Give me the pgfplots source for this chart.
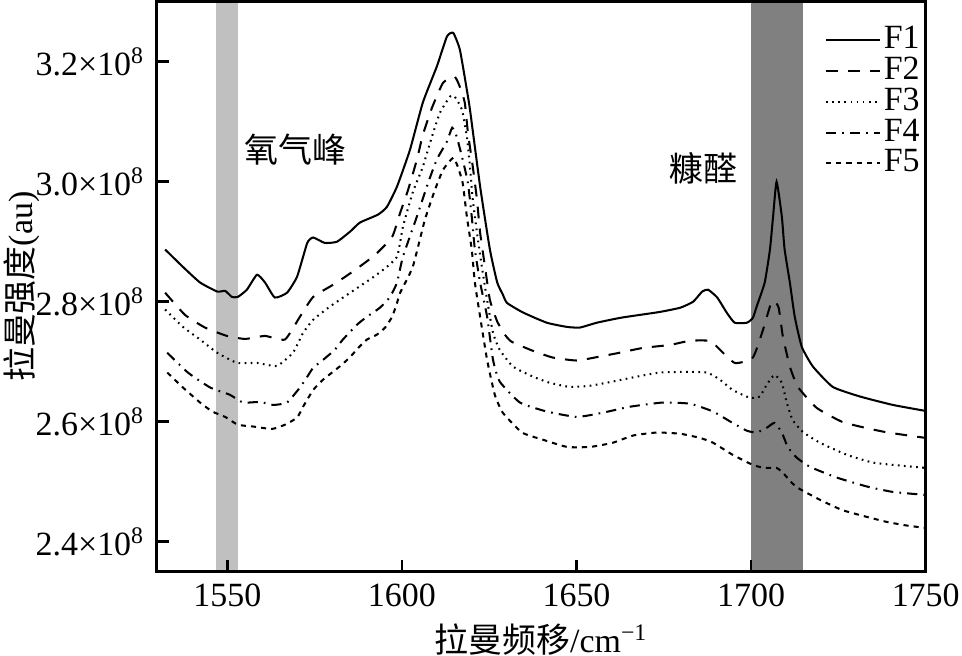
\documentclass[border=0pt]{standalone}
\usepackage{fontspec}
\setmainfont{Liberation Serif}
\newfontfamily\cjk{Noto Sans CJK SC}
\usepackage{pgfplots}
\pgfplotsset{compat=1.18}
\definecolor{bandlight}{RGB}{192,192,192}
\definecolor{banddark}{RGB}{128,128,128}

\begin{document}
\begin{tikzpicture}
\begin{axis}[
  scale only axis, width=226.6pt, height=168pt,
  xmin=1529.8, xmax=1750, ymin=2.35, ymax=3.3,
  xtick={1550,1600,1650,1700,1750},
  ytick={2.4,2.6,2.8,3.0,3.2},
  yticklabels={{2.4×10\textsuperscript{8}},{2.6×10\textsuperscript{8}},{2.8×10\textsuperscript{8}},{3.0×10\textsuperscript{8}},{3.2×10\textsuperscript{8}}},
  tick pos=left, tick align=inside, major tick length=3.6pt,
  axis line style={line width=0.8pt},
  every tick/.style={line width=0.8pt, black},
  axis on top,
  /pgf/number format/assume math mode=true,
  /pgf/number format/1000 sep={},
  xlabel={{\cjk 拉曼频移}/cm\textsuperscript{−1}},
  ylabel={{\cjk 拉曼强度}(au)},
  every axis x label/.style={at={(axis description cs:0.5,-0.119)}, anchor=center},
  every axis y label/.style={at={(axis description cs:-0.176,0.5)}, rotate=90, anchor=center},
  every axis plot/.append style={line width=0.6pt, black, smooth, tension=0.3},
  legend style={at={(0.855,0.975)}, anchor=north west, draw=none, fill=none, row sep=-0.6pt, nodes={inner sep=0.8pt}},
  legend cell align=left,
  legend image code/.code={\draw[#1, sharp plot] (0cm,0cm) -- (0.56cm,0cm);},
]
\addplot[fill=bandlight, draw=none, forget plot, sharp plot] coordinates {(1546.8,2.35) (1546.8,3.3) (1553,3.3) (1553,2.35)} -- cycle;
\addplot[fill=banddark, draw=none, forget plot, sharp plot] coordinates {(1699.9,2.35) (1699.9,3.3) (1715,3.3) (1715,2.35)} -- cycle;

% F1
\addplot[solid] coordinates {
(1532.2,2.887)(1537.3,2.858)(1542.2,2.832)(1547.1,2.817)(1549.4,2.818)(1551.3,2.808)(1553.0,2.808)
(1555.6,2.820)(1558.5,2.845)(1560.8,2.832)(1563.6,2.807)(1567.1,2.815)(1570.0,2.842)(1572.9,2.898)
(1574.6,2.907)(1577.9,2.898)(1581.4,2.900)(1585.2,2.917)(1588.0,2.932)(1593.1,2.945)(1595.7,2.958)
(1598.6,2.992)(1602.3,3.053)(1606.0,3.132)(1610.0,3.192)(1612.9,3.242)(1614.7,3.248)(1616.6,3.220)
(1618.6,3.153)(1619.5,3.120)(1622.4,2.992)(1625.2,2.887)(1627.3,2.832)(1628.9,2.812)(1630.1,2.798)
(1634.7,2.782)(1641.5,2.765)(1647.3,2.758)(1651.0,2.757)(1655.8,2.765)(1662.4,2.773)(1668.1,2.778)
(1673.9,2.783)(1679.7,2.790)(1683.4,2.800)(1686.0,2.817)(1687.7,2.820)(1690.3,2.807)(1693.0,2.782)
(1695.3,2.765)(1698.8,2.765)(1700.5,2.773)(1701.6,2.792)(1703.9,2.832)(1705.4,2.887)(1706.3,2.942)
(1707.3,3.000)(1708.8,2.942)(1709.6,2.887)(1711.1,2.832)(1712.5,2.775)(1714.5,2.725)(1717.7,2.692)
(1723.4,2.658)(1731.2,2.642)(1740.6,2.628)(1750,2.618)};
\addlegendentry{F1}

% F2
\addplot[dash pattern=on 3.5pt off 3pt] coordinates {
(1532.2,2.815)(1537.9,2.778)(1543.6,2.757)(1549.9,2.743)(1555.1,2.738)(1560.8,2.743)(1566.5,2.737)
(1570.8,2.775)(1574.6,2.808)(1580.8,2.830)(1586.6,2.853)(1592.3,2.878)(1597.2,2.908)(1599.5,2.948)
(1601.8,2.987)(1604.3,3.037)(1606.0,3.078)(1608.6,3.123)(1611.8,3.165)(1615.1,3.175)(1616.6,3.158)
(1618.0,3.132)(1618.9,3.082)(1620.3,3.025)(1621.5,2.970)(1622.4,2.915)(1623.8,2.858)(1625.2,2.803)
(1627.3,2.767)(1629.5,2.745)(1631.5,2.733)(1637.6,2.718)(1643.2,2.707)(1650.1,2.702)(1656.1,2.708)
(1662.4,2.715)(1669.0,2.723)(1676.8,2.728)(1682.5,2.735)(1688.3,2.735)(1689.7,2.728)(1695.3,2.698)
(1700.5,2.707)(1703.4,2.753)(1705.4,2.792)(1706.5,2.802)(1707.9,2.790)(1709.1,2.742)(1711.1,2.692)
(1713.4,2.658)(1718.8,2.623)(1726.0,2.600)(1732.6,2.590)(1739.2,2.582)(1750,2.573)};
\addlegendentry{F2}

% F3
\addplot[dash pattern=on 0.5pt off 1.3pt] coordinates {
(1532.2,2.787)(1537.3,2.758)(1542.2,2.737)(1547.1,2.715)(1552.8,2.698)(1558.5,2.698)(1564.2,2.693)
(1568.8,2.715)(1571.7,2.748)(1574.6,2.770)(1579.4,2.792)(1585.2,2.815)(1590.8,2.837)(1594.6,2.853)
(1598.6,2.875)(1600.3,2.925)(1603.1,2.982)(1606.0,3.025)(1608.6,3.075)(1610.9,3.115)(1613.8,3.142)
(1615.1,3.142)(1617.2,3.120)(1618.6,3.075)(1619.5,3.025)(1620.3,2.970)(1621.5,2.915)(1622.9,2.858)
(1624.4,2.803)(1626.1,2.748)(1628.0,2.720)(1631.8,2.692)(1637.6,2.675)(1642.3,2.665)(1648.1,2.658)
(1653.9,2.660)(1660.4,2.667)(1667.2,2.675)(1673.9,2.682)(1681.6,2.683)(1687.4,2.682)(1691.1,2.670)
(1694.7,2.653)(1699.6,2.640)(1702.5,2.642)(1704.5,2.662)(1706.7,2.678)(1708.8,2.665)(1710.2,2.632)
(1711.9,2.603)(1714.8,2.583)(1719.7,2.565)(1727.4,2.545)(1734.8,2.532)(1742.6,2.527)(1750,2.523)};
\addlegendentry{F3}

% F4
\addplot[dash pattern=on 3pt off 1.8pt on 0.5pt off 1.8pt] coordinates {
(1532.8,2.715)(1538.7,2.682)(1545.1,2.657)(1550.7,2.645)(1554.5,2.632)(1559.4,2.633)(1563.1,2.628)
(1567.1,2.632)(1570.8,2.657)(1572.9,2.675)(1574.6,2.690)(1577.4,2.703)(1580.8,2.720)(1583.1,2.737)
(1587.2,2.762)(1590.0,2.775)(1593.7,2.790)(1596.6,2.808)(1598.6,2.832)(1600.3,2.875)(1604.3,2.942)
(1607.5,2.998)(1610.0,3.037)(1612.9,3.067)(1614.4,3.090)(1615.7,3.075)(1617.4,3.037)(1618.9,2.998)
(1620.0,2.942)(1620.9,2.887)(1622.4,2.832)(1624.4,2.775)(1626.1,2.703)(1628.0,2.667)(1633.8,2.632)
(1641.5,2.617)(1650.1,2.608)(1657.5,2.615)(1665.3,2.625)(1674.7,2.632)(1682.5,2.630)(1689.1,2.617)
(1694.7,2.598)(1698.8,2.585)(1701.6,2.582)(1704.5,2.590)(1706.7,2.598)(1708.8,2.582)(1710.5,2.558)
(1713.1,2.540)(1716.8,2.525)(1724.5,2.507)(1733.2,2.492)(1740.6,2.483)(1750,2.478)};
\addlegendentry{F4}

% F5
\addplot[dash pattern=on 1.5pt off 1.5pt] coordinates {
(1532.8,2.682)(1537.3,2.657)(1542.2,2.632)(1545.7,2.617)(1549.4,2.608)(1553.0,2.595)(1557.4,2.592)
(1562.8,2.588)(1566.5,2.595)(1570.0,2.607)(1571.7,2.625)(1574.6,2.653)(1577.4,2.670)(1580.0,2.682)
(1582.8,2.695)(1585.2,2.708)(1587.5,2.723)(1590.0,2.737)(1592.8,2.745)(1595.2,2.757)(1597.2,2.775)
(1598.6,2.798)(1599.5,2.815)(1603.1,2.858)(1606.6,2.937)(1609.5,2.987)(1611.8,3.020)(1614.7,3.040)
(1616.0,3.025)(1617.4,2.998)(1618.6,2.942)(1620.0,2.887)(1620.9,2.832)(1622.4,2.775)(1624.4,2.703)
(1626.6,2.645)(1628.9,2.615)(1634.4,2.582)(1640.4,2.570)(1647.3,2.558)(1653.9,2.558)(1660.4,2.565)
(1666.2,2.577)(1673.0,2.582)(1679.7,2.580)(1685.4,2.573)(1689.1,2.565)(1694.7,2.545)(1700.5,2.528)
(1703.9,2.523)(1707.3,2.523)(1709.1,2.515)(1711.7,2.498)(1713.9,2.488)(1719.7,2.470)(1726.0,2.453)
(1732.1,2.443)(1738.9,2.433)(1744.6,2.427)(1750,2.423)};
\addlegendentry{F5}

\node[font=\cjk] at (axis cs:1569.4,3.053) {氧气峰};
\node[font=\cjk] at (axis cs:1686.4,3.023) {糠醛};

\coordinate (sw) at (rel axis cs:0,0);
\coordinate (ne) at (rel axis cs:1,1);
\end{axis}
\pgfresetboundingbox
\path ([shift={(-46.2pt,-24.8pt)}]sw) rectangle ([shift={(10.7pt,0.5pt)}]ne);
\end{tikzpicture}
\end{document}
